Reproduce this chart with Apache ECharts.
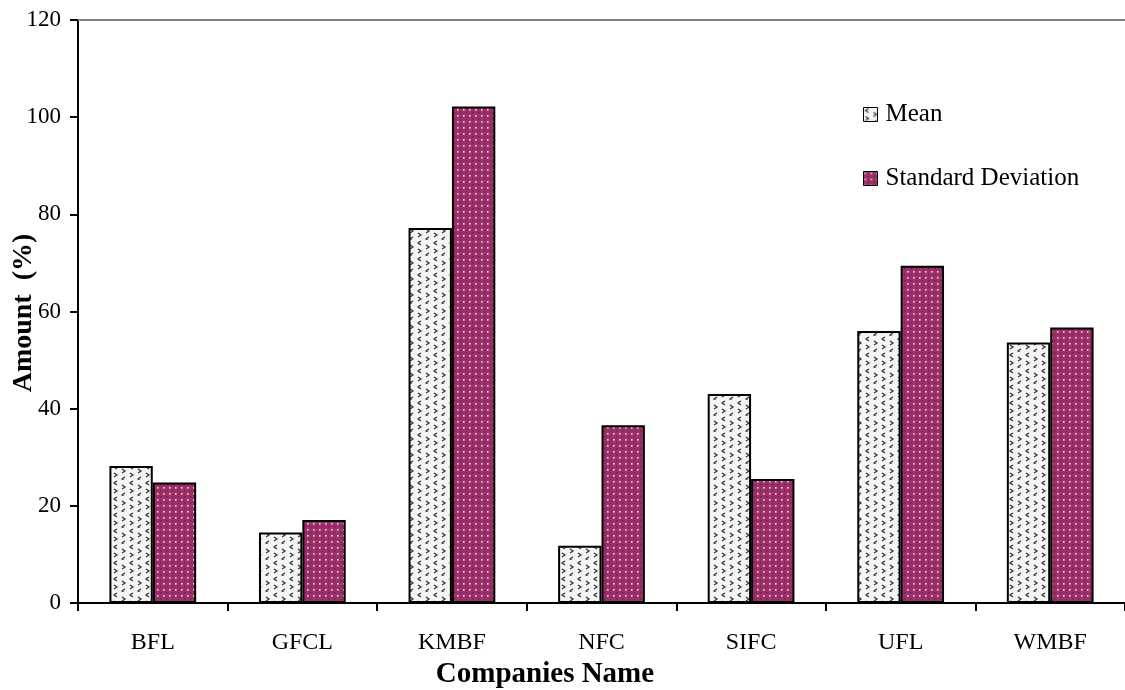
<!DOCTYPE html>
<html>
<head>
<meta charset="utf-8">
<script src="https://cdn.jsdelivr.net/npm/echarts@6/dist/echarts.min.js"></script>
<style>
  html, body { margin: 0; padding: 0; background: #fff; }
  #chart { width: 1125px; height: 690px; }
</style>
</head>
<body>
<div id="chart"></div>
<script>
// Companies and their mean / standard deviation values (%)
const companies = ['BFL', 'GFCL', 'KMBF', 'NFC', 'SIFC', 'UFL', 'WMBF'];
const meanValues = [28.2, 14.5, 77.2, 11.8, 43.0, 56.0, 53.6];
const stdDevValues = [24.8, 17.1, 102.2, 36.6, 25.5, 69.4, 56.7];
const yTicks = [0, 20, 40, 60, 80, 100, 120];

const FONT = '"Liberation Serif", "Times New Roman", serif';

// Light grey tile with small dark chevrons
function chevronPattern() {
  const c = document.createElement('canvas');
  c.width = 16; c.height = 16;
  const g = c.getContext('2d');
  g.fillStyle = '#f4f4f4';
  g.fillRect(0, 0, 16, 16);
  g.strokeStyle = '#2e2e2e';
  g.lineWidth = 1.2;
  const chev = (x, y, dir) => {
    g.beginPath();
    g.moveTo(x + (dir > 0 ? 0 : 3), y);
    g.lineTo(x + (dir > 0 ? 3 : 0), y + 2);
    g.lineTo(x + (dir > 0 ? 0 : 3), y + 4);
    g.stroke();
  };
  chev(2, 1, -1);
  chev(10, 5, 1);
  chev(2, 9, 1);
  chev(10, 13, -1);
  return c;
}

// Plum tile with pale dots
function dotPattern() {
  const c = document.createElement('canvas');
  c.width = 6; c.height = 6;
  const g = c.getContext('2d');
  g.fillStyle = '#9b3068';
  g.fillRect(0, 0, 6, 6);
  g.fillStyle = '#f3cfe3';
  g.fillRect(1, 1, 1.6, 1.6);
  g.fillStyle = '#7c2152';
  g.fillRect(4, 4, 1.5, 1.5);
  return c;
}

const chart = echarts.init(document.getElementById('chart'), null, { renderer: 'canvas' });

chart.setOption({
  animation: false,
  backgroundColor: '#ffffff',
  grid: { left: 78, right: 0, top: 20, bottom: 87 },
  legend: {
    orient: 'vertical',
    left: 858,
    top: 97,
    icon: 'rect',
    itemWidth: 14,
    itemHeight: 14,
    itemGap: 39,
    itemStyle: { borderColor: '#000', borderWidth: 1 },
    textStyle: { fontFamily: FONT, fontSize: 25, color: '#000', lineHeight: 20, padding: [0, 0, 0, 3] },
    data: ['Mean', 'Standard Deviation']
  },
  xAxis: [{
    type: 'category',
    data: companies,
    axisLine: { lineStyle: { color: '#000', width: 2 } },
    axisTick: { show: true, length: 8, lineStyle: { color: '#000', width: 2 } },
    axisLabel: { fontFamily: FONT, fontSize: 24, color: '#000', margin: 28 }
  }, {
    type: 'category',
    data: companies,
    position: 'top',
    axisLine: { show: true, lineStyle: { color: '#808080', width: 2 } },
    axisTick: { show: false },
    axisLabel: { show: false }
  }],
  yAxis: {
    type: 'value',
    min: yTicks[0],
    max: yTicks[yTicks.length - 1],
    interval: 20,
    axisLine: { show: true, lineStyle: { color: '#000', width: 2 } },
    axisTick: { show: true, length: 8, lineStyle: { color: '#000', width: 2 } },
    splitLine: { show: false },
    axisLabel: { fontFamily: FONT, fontSize: 23, color: '#000', margin: 17 }
  },
  graphic: [{
    type: 'text',
    x: 24,
    y: 313,
    rotation: Math.PI / 2,
    style: {
      text: 'Amount  (%)',
      font: 'bold 28px ' + FONT,
      fill: '#000',
      align: 'center',
      verticalAlign: 'middle'
    }
  }, {
    type: 'text',
    x: 545,
    y: 675,
    style: {
      text: 'Companies Name',
      font: 'bold 29px ' + FONT,
      fill: '#000',
      align: 'center',
      verticalAlign: 'middle'
    }
  }],
  series: [{
    name: 'Mean',
    type: 'bar',
    data: meanValues,
    barGap: '0%',
    barCategoryGap: '42%',
    itemStyle: {
      color: { image: chevronPattern(), repeat: 'repeat' },
      borderColor: '#000',
      borderWidth: 2
    }
  }, {
    name: 'Standard Deviation',
    type: 'bar',
    data: stdDevValues,
    itemStyle: {
      color: { image: dotPattern(), repeat: 'repeat' },
      borderColor: '#000',
      borderWidth: 2
    }
  }]
});
</script>
</body>
</html>
